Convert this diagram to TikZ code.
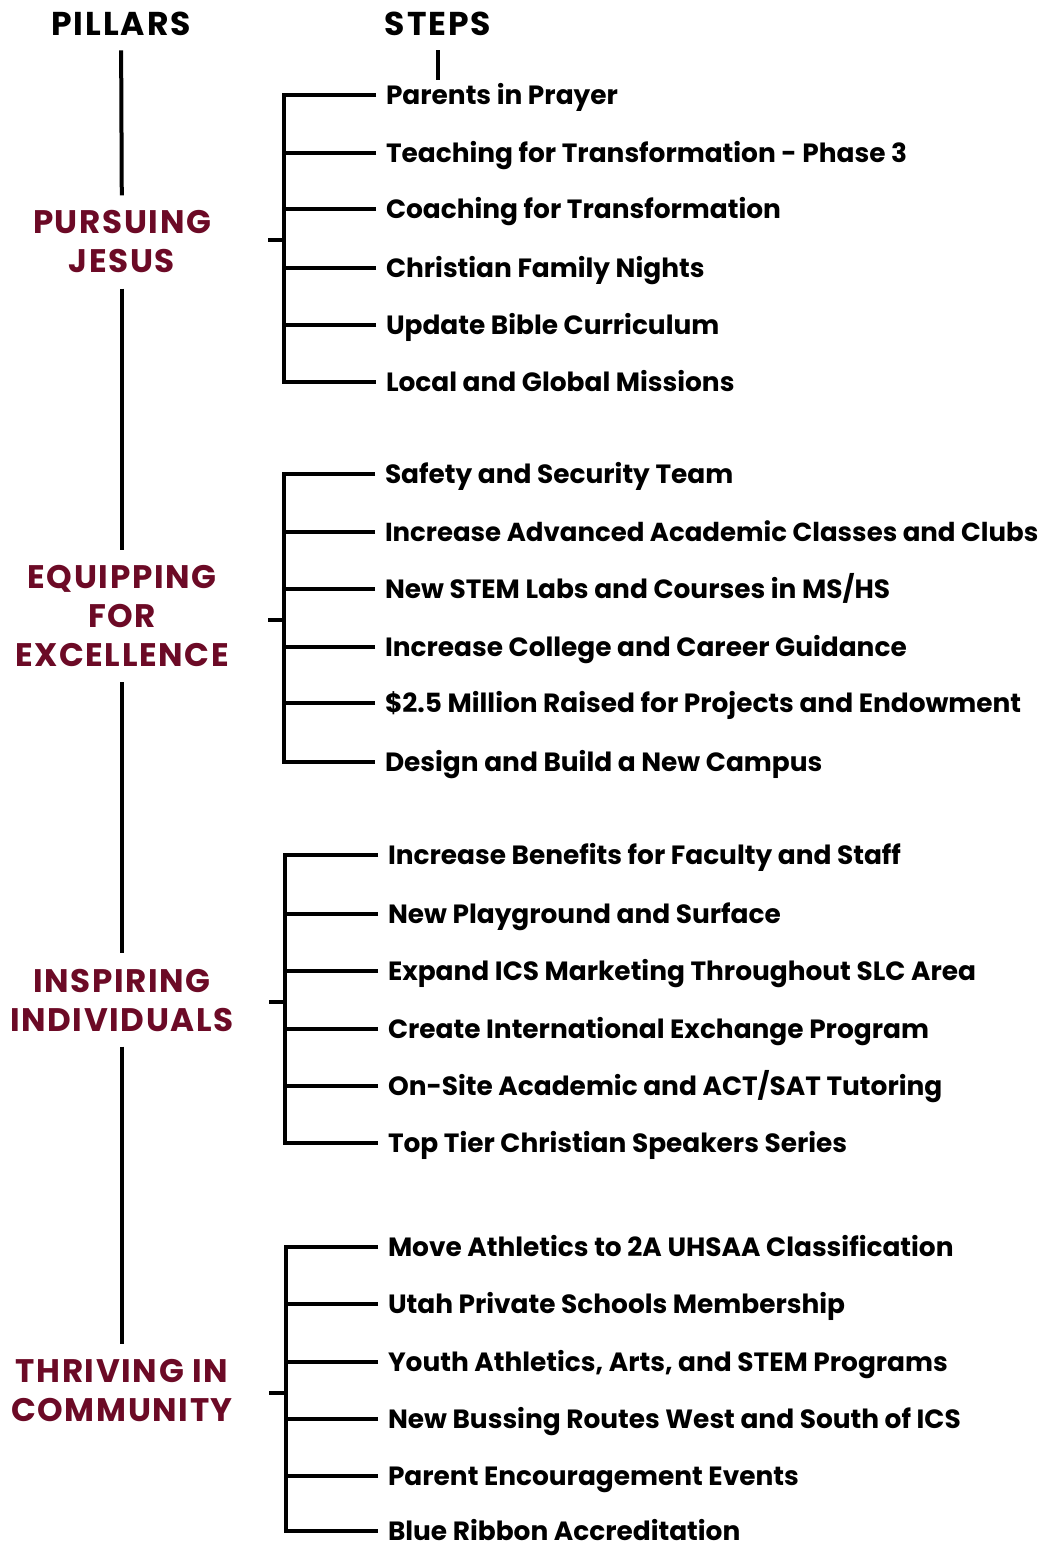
\documentclass[tikz,border=0pt]{standalone}
\usepackage{fontspec}
\setmainfont{Poppins}
\usepackage{xcolor}
\usetikzlibrary{positioning}
\definecolor{pillarred}{RGB}{108,10,38}

\begin{document}
\begin{tikzpicture}[x=0.5pt, y=-0.5pt,
    head/.style={font=\fontsize{16.5}{19}\selectfont\bfseries\addfontfeatures{LetterSpace=6}, inner xsep=0pt, inner ysep=7.5pt, text height=11pt, text depth=0pt},
    pillar/.style={font=\fontsize{16.3}{19.5}\selectfont\bfseries\addfontfeatures{LetterSpace=5}, text=pillarred, align=center, inner xsep=0pt, inner ysep=7.5pt},
    item/.style={anchor=west, font=\fontsize{13.2}{16}\selectfont\bfseries, inner sep=0pt, outer xsep=5pt, text height=9.3pt, text depth=0pt},
    rule/.style={line width=2pt}]
    \useasboundingbox (0, 0) rectangle (1045, 1547);

    % headings
    \node[head] (pillars) at (121, 24) {PILLARS};
    \node[head] (steps) at (438, 24) {STEPS};
    \coordinate (stepsend) at (438, 80);

    % pillars
    \node[pillar] (pj) at (122, 242) {PURSUING\\JESUS};
    \node[pillar] (efe) at (122, 616) {EQUIPPING\\FOR\\EXCELLENCE};
    \node[pillar] (ii) at (122, 1000) {INSPIRING\\INDIVIDUALS};
    \node[pillar] (tic) at (122, 1391) {THRIVING IN\\COMMUNITY};

    \draw[rule] (pillars) -- (pj);
    \draw[rule] (pj) -- (efe);
    \draw[rule] (efe) -- (ii);
    \draw[rule] (ii) -- (tic);
    \draw[rule] (steps) -- (stepsend);

    % steps: pursuing jesus
    \node[item] (s11) at (376, 95) {Parents in Prayer};
    \node[item] (s12) at (376, 153) {Teaching for Transformation - Phase 3};
    \node[item] (s13) at (376, 209) {Coaching for Transformation};
    \node[item] (s14) at (376, 268) {Christian Family Nights};
    \node[item] (s15) at (376, 325) {Update Bible Curriculum};
    \node[item] (s16) at (376, 382) {Local and Global Missions};
    \coordinate (b1) at (284, 240);
    \coordinate (c1) at (268, 240);

    % steps: equipping for excellence
    \node[item] (s21) at (375, 474) {Safety and Security Team};
    \node[item, font=\fontsize{13}{16}\selectfont\bfseries] (s22) at (375, 532) {Increase Advanced Academic Classes and Clubs};
    \node[item] (s23) at (375, 589) {New STEM Labs and Courses in MS/HS};
    \node[item] (s24) at (375, 647) {Increase College and Career Guidance};
    \node[item] (s25) at (375, 703) {\$2.5 Million Raised for Projects and Endowment};
    \node[item] (s26) at (375, 762) {Design and Build a New Campus};
    \coordinate (b2) at (284, 620);
    \coordinate (c2) at (268, 620);

    % steps: inspiring individuals
    \node[item] (s31) at (378, 855) {Increase Benefits for Faculty and Staff};
    \node[item] (s32) at (378, 914) {New Playground and Surface};
    \node[item] (s33) at (378, 971) {Expand ICS Marketing Throughout SLC Area};
    \node[item] (s34) at (378, 1029) {Create International Exchange Program};
    \node[item] (s35) at (378, 1086) {On-Site Academic and ACT/SAT Tutoring};
    \node[item] (s36) at (378, 1143) {Top Tier Christian Speakers Series};
    \coordinate (b3) at (285, 1002);
    \coordinate (c3) at (269, 1002);

    % steps: thriving in community
    \node[item] (s41) at (378, 1247) {Move Athletics to 2A UHSAA Classification};
    \node[item] (s42) at (378, 1304) {Utah Private Schools Membership};
    \node[item] (s43) at (378, 1362) {Youth Athletics, Arts, and STEM Programs};
    \node[item] (s44) at (378, 1419) {New Bussing Routes West and South of ICS};
    \node[item] (s45) at (378, 1476) {Parent Encouragement Events};
    \node[item] (s46) at (378, 1531) {Blue Ribbon Accreditation};
    \coordinate (b4) at (286, 1393);
    \coordinate (c4) at (269, 1393);

    % brackets
    \draw[rule] (s11.west) -| (b1) |- (s16.west);
    \draw[rule] (s12.west) -- (s12.west -| b1);
    \draw[rule] (s13.west) -- (s13.west -| b1);
    \draw[rule] (s14.west) -- (s14.west -| b1);
    \draw[rule] (s15.west) -- (s15.west -| b1);
    \draw[rule] (c1) -- (b1);

    \draw[rule] (s21.west) -| (b2) |- (s26.west);
    \draw[rule] (s22.west) -- (s22.west -| b2);
    \draw[rule] (s23.west) -- (s23.west -| b2);
    \draw[rule] (s24.west) -- (s24.west -| b2);
    \draw[rule] (s25.west) -- (s25.west -| b2);
    \draw[rule] (c2) -- (b2);

    \draw[rule] (s31.west) -| (b3) |- (s36.west);
    \draw[rule] (s32.west) -- (s32.west -| b3);
    \draw[rule] (s33.west) -- (s33.west -| b3);
    \draw[rule] (s34.west) -- (s34.west -| b3);
    \draw[rule] (s35.west) -- (s35.west -| b3);
    \draw[rule] (c3) -- (b3);

    \draw[rule] (s41.west) -| (b4) |- (s46.west);
    \draw[rule] (s42.west) -- (s42.west -| b4);
    \draw[rule] (s43.west) -- (s43.west -| b4);
    \draw[rule] (s44.west) -- (s44.west -| b4);
    \draw[rule] (s45.west) -- (s45.west -| b4);
    \draw[rule] (c4) -- (b4);
\end{tikzpicture}
\end{document}
